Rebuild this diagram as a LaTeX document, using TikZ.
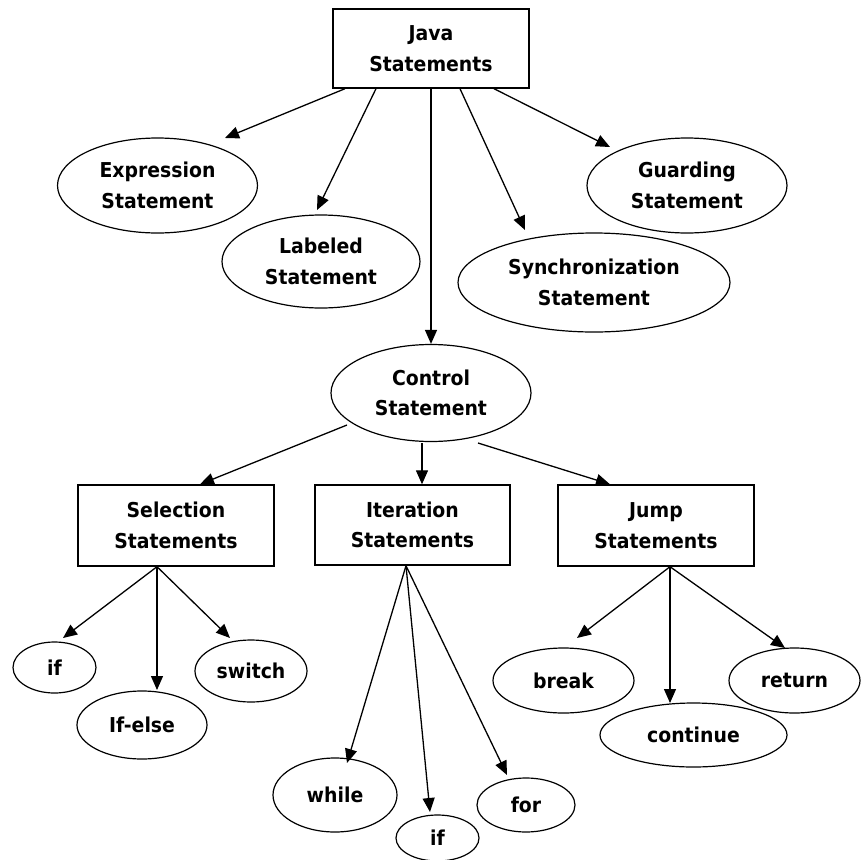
\documentclass[tikz,border=0pt]{standalone}
\usepackage{fontspec}
\setmainfont{DejaVu Sans}[FakeStretch=0.92]
\usetikzlibrary{shapes.geometric,arrows.meta}

\tikzset{
  label text/.style={font=\bfseries\fontsize{20.5}{30.5}\selectfont, align=center, inner sep=0pt},
  boxnode/.style={label text, draw, line width=1.4pt, rectangle, minimum width=#1},
  ovalnode/.style={label text, draw, line width=1.2pt, ellipse},
  arr/.style={-{Triangle[length=14pt,width=12pt]}, line width=1.3pt},
}

\begin{document}
\begin{tikzpicture}[x=1pt, y=-1pt]
\useasboundingbox (0,0) rectangle (863,860);

% top level
\node[boxnode=196pt, minimum height=79pt] (java) at (431,48.5) {Java\\Statements};

\node[ovalnode, minimum width=200pt, minimum height=95pt] (expr) at (157.5,185.5) {Expression\\Statement};
\node[ovalnode, minimum width=198pt, minimum height=93pt] (lab) at (321,261.5) {Labeled\\Statement};
\node[ovalnode, minimum width=272pt, minimum height=99pt] (sync) at (594,282.5) {Synchronization\\Statement};
\node[ovalnode, minimum width=200pt, minimum height=95pt] (guard) at (687,185.5) {Guarding\\Statement};
\node[ovalnode, minimum width=200pt, minimum height=97pt] (ctrl) at (431,393) {Control\\Statement};

% second level
\node[boxnode=196pt, minimum height=81pt] (sel) at (176,525.5) {Selection\\Statements};
\node[boxnode=195pt, minimum height=80pt] (iter) at (412.5,525) {Iteration\\Statements};
\node[boxnode=196pt, minimum height=81pt] (jump) at (656,525.5) {Jump\\Statements};

% leaves
\node[ovalnode, minimum width=83pt, minimum height=51pt] (ifa) at (54.5,667.5) {if};
\node[ovalnode, minimum width=130pt, minimum height=68pt] (ifelse) at (142,725) {If-else};
\node[ovalnode, minimum width=112pt, minimum height=62pt] (switch) at (251,671) {switch};

\node[ovalnode, minimum width=124pt, minimum height=74pt] (while) at (335,795) {while};
\node[ovalnode, minimum width=83pt, minimum height=46pt] (ifb) at (437.5,838) {if};
\node[ovalnode, minimum width=98pt, minimum height=54pt] (for) at (526,805) {for};

\node[ovalnode, minimum width=141pt, minimum height=65pt] (break) at (563.5,680.5) {break};
\node[ovalnode, minimum width=187pt, minimum height=64pt] (cont) at (693.5,735) {continue};
\node[ovalnode, minimum width=131pt, minimum height=65pt] (ret) at (794.5,680.5) {return};

% connectors from the root
\draw[arr] ([xshift=-86pt]java.south) -- ([shift={(67.5,-47.5)}]expr.center);
\draw[arr] ([xshift=-55pt]java.south) -- ([shift={(-4,-51.5)}]lab.center);
\draw[arr] (java.south) -- (ctrl.north);
\draw[arr] ([xshift=29pt]java.south) -- ([shift={(-69,-52.5)}]sync.center);
\draw[arr] ([xshift=63pt]java.south) -- ([shift={(-77,-38.5)}]guard.center);

% connectors from the control statement
\draw[arr] ([shift={(-84,32)}]ctrl.center) -- ([xshift=24pt]sel.north);
\draw[arr] ([shift={(-9,50)}]ctrl.center) -- ([xshift=9.5pt]iter.north);
\draw[arr] ([shift={(47,50)}]ctrl.center) -- ([xshift=-46pt]jump.north);

% selection statements
\draw[arr] ([xshift=-19pt]sel.south) -- ([shift={(8.5,-29.5)}]ifa.center);
\draw[arr] ([xshift=-19pt]sel.south) -- ([shift={(15,-35)}]ifelse.center);
\draw[arr] ([xshift=-19pt]sel.south) -- ([shift={(-21,-33)}]switch.center);

% iteration statements
\draw[arr] ([xshift=-6.5pt]iter.south) -- ([shift={(12,-32)}]while.center);
\draw[arr] ([xshift=-6.5pt]iter.south) -- ([shift={(-7.5,-26)}]ifb.center);
\draw[arr] ([xshift=-6.5pt]iter.south) -- ([shift={(-19,-30)}]for.center);

% jump statements
\draw[arr] ([xshift=14pt]jump.south) -- ([shift={(13.5,-42.5)}]break.center);
\draw[arr] ([xshift=14pt]jump.south) -- ([shift={(-23.5,-32)}]cont.center);
\draw[arr] ([xshift=14pt]jump.south) -- ([shift={(-9.5,-32.5)}]ret.center);
\end{tikzpicture}
\end{document}
